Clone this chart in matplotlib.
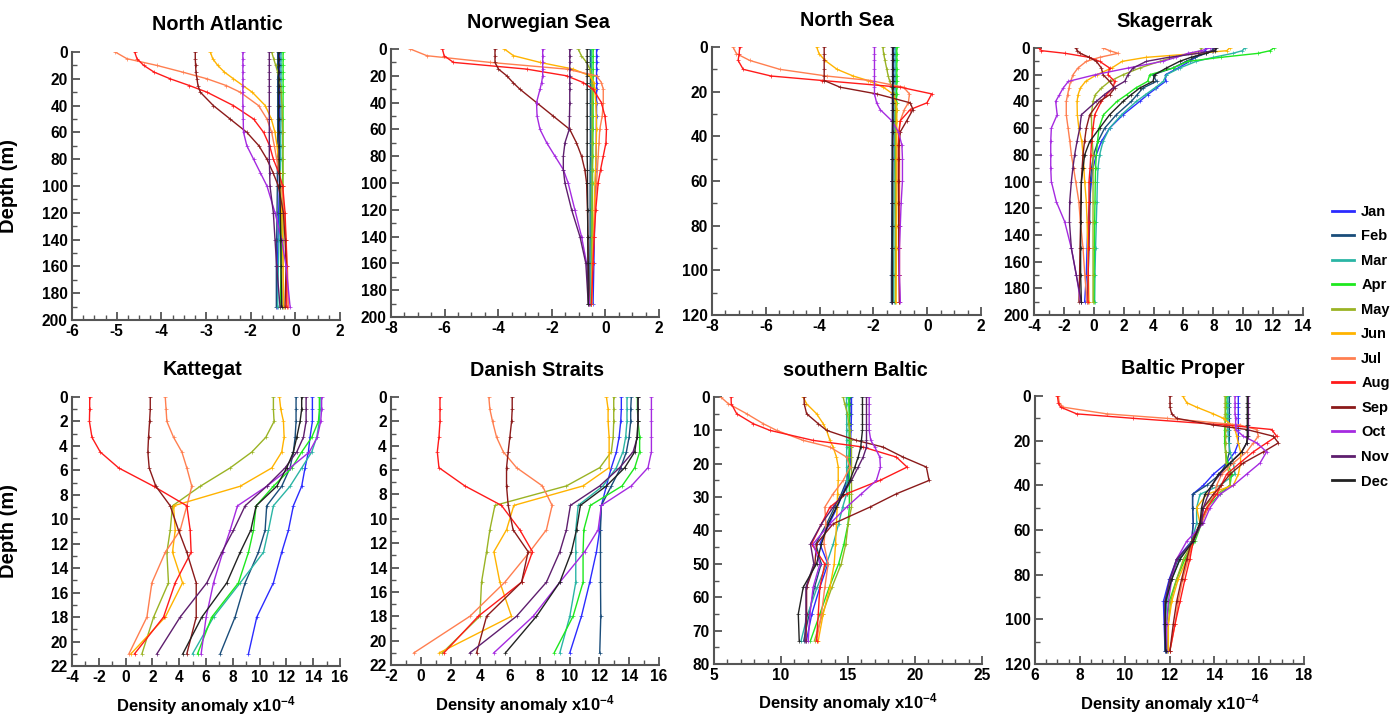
import matplotlib
matplotlib.use("Agg")
import matplotlib.pyplot as plt
from matplotlib.lines import Line2D
from matplotlib.ticker import MultipleLocator
import numpy as np

# Fuente tipo Arial en negrita para todo
plt.rcParams['font.family'] = ['Liberation Sans', 'DejaVu Sans']
plt.rcParams['font.weight'] = 'bold'
plt.rcParams['axes.unicode_minus'] = False
plt.rcParams['mathtext.fontset'] = 'custom'
plt.rcParams['mathtext.rm'] = 'Liberation Sans:bold'
plt.rcParams['mathtext.it'] = 'Liberation Sans:bold'
plt.rcParams['mathtext.bf'] = 'Liberation Sans:bold'

meses = ["Jan", "Feb", "Mar", "Apr", "May", "Jun", "Jul", "Aug", "Sep", "Oct", "Nov", "Dec"]
colores = ['#2b2bff', '#1a4d7a', '#2ab5a5', '#1ee81e', '#9ab324', '#ffb300',
           '#ff7f50', '#ff1a1a', '#8b1a1a', '#a52ae0', '#5e1e6e', '#222222']

# ---------------- North Atlantic ----------------
na_depth = [0, 5, 10, 15, 20, 25, 30, 40, 50, 60, 70, 80, 90, 100, 120, 140, 160, 190]
na_vals = [
    [0.20, 0.20, 0.20, 0.20, 0.20, 0.20, 0.20, 0.20, 0.20, 0.20, 0.20, 0.20, 0.19, 0.19, 0.17, 0.15, 0.13, 0.12],
    [0.14, 0.14, 0.14, 0.14, 0.14, 0.14, 0.14, 0.14, 0.14, 0.14, 0.14, 0.14, 0.13, 0.13, 0.12, 0.11, 0.10, 0.10],
    [0.24, 0.24, 0.24, 0.24, 0.24, 0.24, 0.24, 0.24, 0.24, 0.23, 0.23, 0.23, 0.22, 0.22, 0.20, 0.18, 0.16, 0.14],
    [0.30, 0.30, 0.30, 0.30, 0.30, 0.30, 0.30, 0.30, 0.30, 0.30, 0.30, 0.29, 0.29, 0.28, 0.27, 0.26, 0.24, 0.22],
    [-0.04, 0.02, 0.08, 0.14, 0.18, 0.22, 0.24, 0.27, 0.28, 0.29, 0.29, 0.30, 0.30, 0.30, 0.30, 0.30, 0.30, 0.30],
    [-1.87, -1.80, -1.65, -1.45, -1.18, -0.90, -0.62, -0.23, -0.05, 0.06, 0.12, 0.16, 0.20, 0.22, 0.26, 0.28, 0.30, 0.32],
    [-4.71, -4.36, -3.47, -2.70, -1.97, -1.40, -0.98, -0.43, -0.18, -0.04, 0.04, 0.11, 0.18, 0.26, 0.33, 0.39, 0.43, 0.46],
    [-4.13, -4.06, -3.86, -3.55, -3.07, -2.50, -1.97, -1.18, -0.58, -0.28, -0.10, 0.01, 0.17, 0.29, 0.36, 0.39, 0.41, 0.41],
    [-2.32, -2.32, -2.31, -2.30, -2.27, -2.24, -2.17, -1.78, -1.28, -0.78, -0.42, -0.18, 0.00, 0.16, 0.31, 0.36, 0.39, 0.36],
    [-0.90, -0.90, -0.90, -0.90, -0.90, -0.90, -0.90, -0.90, -0.89, -0.88, -0.78, -0.58, -0.38, -0.18, 0.06, 0.26, 0.39, 0.51],
    [-0.11, -0.11, -0.11, -0.11, -0.11, -0.11, -0.11, -0.11, -0.11, -0.11, -0.11, -0.11, -0.10, -0.09, 0.01, 0.06, 0.11, 0.21],
    [0.17, 0.17, 0.17, 0.17, 0.17, 0.17, 0.17, 0.17, 0.17, 0.17, 0.18, 0.18, 0.19, 0.20, 0.22, 0.23, 0.24, 0.26],
]
na_ticklabels = ["-6", "-5", "-4", "-3", "-2", "0", "2"]

# ---------------- Norwegian Sea ----------------
nw_depth = [0, 5, 10, 15, 20, 25, 30, 40, 50, 60, 70, 80, 90, 100, 120, 140, 160, 190]
nw_vals = [
    [-0.33, -0.33, -0.33, -0.33, -0.33, -0.33, -0.33, -0.33, -0.33, -0.34, -0.34, -0.35, -0.36, -0.37, -0.39, -0.41, -0.43, -0.46],
    [-0.56, -0.56, -0.56, -0.56, -0.56, -0.56, -0.56, -0.56, -0.56, -0.56, -0.56, -0.56, -0.57, -0.57, -0.57, -0.57, -0.58, -0.58],
    [-0.52, -0.52, -0.52, -0.52, -0.52, -0.52, -0.52, -0.52, -0.52, -0.52, -0.52, -0.52, -0.53, -0.53, -0.53, -0.53, -0.54, -0.54],
    [-0.46, -0.46, -0.46, -0.46, -0.46, -0.46, -0.46, -0.46, -0.46, -0.46, -0.47, -0.47, -0.48, -0.48, -0.49, -0.50, -0.51, -0.52],
    [-1.01, -0.90, -0.70, -0.58, -0.52, -0.50, -0.49, -0.49, -0.49, -0.49, -0.49, -0.49, -0.49, -0.49, -0.50, -0.50, -0.51, -0.52],
    [-3.77, -3.43, -2.44, -1.20, -0.58, -0.43, -0.40, -0.36, -0.34, -0.33, -0.34, -0.35, -0.37, -0.39, -0.42, -0.45, -0.48, -0.52],
    [-7.28, -6.66, -4.30, -1.45, -0.33, -0.15, -0.08, -0.08, -0.12, -0.21, -0.24, -0.27, -0.30, -0.33, -0.39, -0.43, -0.48, -0.52],
    [-6.08, -6.02, -5.67, -2.94, -1.45, -0.83, -0.46, -0.15, -0.02, 0.04, 0.02, -0.08, -0.18, -0.27, -0.36, -0.42, -0.46, -0.52],
    [-4.12, -4.12, -4.12, -3.99, -3.68, -3.45, -3.19, -2.57, -1.95, -1.33, -1.08, -0.89, -0.77, -0.70, -0.67, -0.65, -0.64, -0.60],
    [-2.34, -2.34, -2.34, -2.34, -2.34, -2.38, -2.44, -2.57, -2.55, -2.44, -2.19, -1.88, -1.57, -1.39, -1.14, -0.89, -0.70, -0.60],
    [-1.33, -1.33, -1.33, -1.33, -1.33, -1.33, -1.33, -1.33, -1.34, -1.35, -1.51, -1.57, -1.57, -1.51, -1.26, -0.95, -0.73, -0.64],
    [-0.68, -0.68, -0.68, -0.68, -0.68, -0.68, -0.68, -0.68, -0.68, -0.68, -0.68, -0.68, -0.67, -0.67, -0.66, -0.66, -0.65, -0.64],
]

# ---------------- North Sea ----------------
ns_depth = [0, 3, 6, 10, 13, 15, 18, 21, 25, 28, 33, 38, 44, 50, 60, 70, 80, 90, 102, 114]
ns_vals = [
    [-1.25, -1.25, -1.25, -1.25, -1.25, -1.25, -1.25, -1.26, -1.26, -1.26, -1.27, -1.27, -1.28, -1.28, -1.29, -1.29, -1.30, -1.30, -1.31, -1.32],
    [-1.28, -1.28, -1.28, -1.28, -1.28, -1.28, -1.28, -1.29, -1.29, -1.29, -1.29, -1.30, -1.30, -1.30, -1.31, -1.31, -1.32, -1.32, -1.33, -1.33],
    [-1.19, -1.19, -1.19, -1.19, -1.19, -1.19, -1.19, -1.20, -1.20, -1.20, -1.21, -1.21, -1.22, -1.22, -1.23, -1.23, -1.24, -1.24, -1.25, -1.25],
    [-1.13, -1.13, -1.13, -1.13, -1.13, -1.13, -1.13, -1.14, -1.14, -1.14, -1.15, -1.15, -1.16, -1.16, -1.16, -1.17, -1.17, -1.17, -1.18, -1.18],
    [-1.65, -1.62, -1.57, -1.50, -1.45, -1.40, -1.33, -1.22, -1.19, -1.18, -1.18, -1.18, -1.18, -1.18, -1.18, -1.18, -1.18, -1.18, -1.18, -1.18],
    [-4.11, -4.02, -3.80, -3.35, -2.75, -2.20, -1.63, -1.28, -1.15, -1.13, -1.13, -1.13, -1.13, -1.13, -1.13, -1.13, -1.14, -1.14, -1.15, -1.16],
    [-7.22, -7.09, -6.60, -5.48, -3.74, -2.12, -0.88, -0.66, -0.70, -0.85, -1.00, -1.05, -1.03, -1.03, -1.03, -1.03, -1.03, -1.03, -1.03, -1.03],
    [-6.97, -6.99, -7.03, -6.84, -5.80, -3.90, -1.00, 0.17, -0.01, -0.63, -1.00, -1.05, -1.07, -1.07, -1.07, -1.06, -1.05, -1.05, -1.04, -1.03],
    [-3.83, -3.83, -3.83, -3.83, -3.83, -3.83, -3.24, -1.88, -0.63, -0.53, -0.76, -1.00, -1.05, -1.05, -1.06, -1.06, -1.06, -1.05, -1.04, -1.03],
    [-1.96, -1.96, -1.96, -1.96, -1.96, -1.96, -1.96, -1.96, -1.88, -1.75, -1.32, -1.07, -0.94, -0.92, -0.92, -0.97, -1.00, -1.03, -1.03, -1.00],
    [-1.32, -1.32, -1.32, -1.32, -1.32, -1.32, -1.32, -1.32, -1.32, -1.32, -1.32, -1.32, -1.32, -1.32, -1.32, -1.32, -1.32, -1.32, -1.32, -1.32],
    [-1.28, -1.28, -1.28, -1.28, -1.28, -1.28, -1.28, -1.28, -1.28, -1.28, -1.28, -1.28, -1.29, -1.29, -1.29, -1.29, -1.29, -1.30, -1.30, -1.30],
]

# ---------------- Skagerrak ----------------
sk_depth = [0, 2, 4, 7, 10, 15, 20, 25, 30, 35, 40, 50, 60, 70, 80, 90, 100, 115, 130, 150, 170, 190]
sk_vals = [
    [7.53, 7.45, 7.20, 6.80, 6.42, 5.64, 4.80, 4.80, 4.19, 3.60, 3.07, 1.96, 1.06, 0.51, 0.17, -0.05, -0.16, -0.28, -0.39, -0.45, -0.50, -0.61],
    [7.98, 7.90, 7.50, 6.80, 6.19, 5.30, 3.95, 4.20, 3.29, 2.90, 2.51, 1.51, 0.73, 0.28, -0.01, -0.15, -0.23, -0.26, -0.28, -0.32, -0.38, -0.45],
    [10.10, 9.95, 9.30, 8.00, 6.86, 5.75, 4.86, 4.65, 4.07, 3.45, 2.85, 1.85, 1.06, 0.62, 0.39, 0.28, 0.24, 0.21, 0.17, 0.12, 0.08, 0.06],
    [12.04, 11.80, 11.00, 8.50, 6.30, 5.30, 3.75, 3.60, 2.80, 2.20, 1.55, 0.65, 0.35, 0.25, 0.17, 0.12, 0.10, 0.08, 0.06, 0.04, 0.02, 0.01],
    [7.20, 7.15, 6.60, 5.30, 4.41, 3.07, 1.96, 1.06, 0.51, 0.10, -0.05, -0.16, -0.14, -0.10, -0.05, -0.05, -0.05, -0.05, -0.05, -0.05, -0.05, -0.05],
    [9.09, 8.90, 7.00, 3.50, 1.90, 1.20, 0.20, -0.55, -0.90, -1.05, -1.12, -1.10, -1.00, -0.80, -0.72, -0.66, -0.61, -0.50, -0.45, -0.40, -0.36, -0.32],
    [0.62, 1.06, 1.62, 0.39, -0.50, -1.06, -1.39, -1.55, -1.66, -1.75, -1.84, -1.84, -1.72, -1.60, -1.50, -1.35, -1.21, -1.00, -0.90, -0.72, -0.60, -0.45],
    [-3.67, -3.50, -1.90, -0.30, 0.39, 1.06, 0.95, 1.40, 1.29, 0.84, 0.51, 0.06, -0.05, -0.15, -0.20, -0.25, -0.32, -0.32, -0.33, -0.35, -0.37, -0.39],
    [-1.21, -1.10, -0.90, -0.30, 0.17, 0.51, 0.62, 1.06, 1.40, 1.06, 0.39, -0.27, -0.50, -0.62, -0.72, -0.78, -0.83, -0.86, -0.88, -0.92, -0.95, -0.99],
    [7.75, 7.20, 6.30, 5.50, 4.60, 2.30, 0.10, -1.70, -2.05, -2.30, -2.55, -2.45, -2.84, -2.88, -2.88, -2.88, -2.84, -2.51, -1.95, -1.50, -1.17, -0.88],
    [8.09, 8.00, 7.00, 5.00, 3.52, 2.62, 2.29, 2.07, 1.29, 0.70, 0.17, -0.83, -0.94, -1.12, -1.28, -1.40, -1.50, -1.61, -1.63, -1.50, -1.17, -0.83],
    [8.20, 8.10, 7.50, 6.50, 5.75, 4.86, 4.07, 3.96, 3.07, 2.50, 1.96, 1.06, 0.39, -0.27, -0.61, -0.72, -0.83, -0.85, -0.87, -0.88, -0.88, -0.83],
]

# ---------------- Kattegat ----------------
kt_depth = [0, 1, 2, 3.3, 4.5, 5.8, 7.3, 8.9, 10.9, 12.7, 15.2, 18, 21]
kt_vals = [
    [13.94, 13.94, 13.94, 13.76, 13.64, 13.39, 13.14, 12.52, 12.15, 11.65, 11.03, 9.79, 9.17],
    [12.72, 12.72, 12.72, 12.65, 12.52, 12.27, 11.65, 10.53, 10.41, 9.91, 8.92, 8.17, 7.06],
    [14.51, 14.51, 14.46, 14.26, 13.89, 13.14, 12.27, 11.03, 10.66, 10.29, 8.55, 6.56, 5.00],
    [14.46, 14.46, 14.39, 13.89, 13.14, 12.40, 11.03, 9.74, 9.54, 9.17, 8.42, 6.43, 5.37],
    [11.03, 11.03, 11.08, 10.46, 9.42, 7.80, 5.57, 3.50, 3.33, 3.08, 3.20, 2.09, 1.22],
    [11.48, 11.58, 11.78, 11.83, 11.65, 10.91, 8.55, 3.58, 3.70, 3.50, 4.25, 2.96, 0.40],
    [2.96, 3.02, 3.08, 3.58, 4.20, 4.57, 4.94, 4.57, 4.07, 2.96, 1.96, 1.59, 0.25],
    [-2.68, -2.68, -2.70, -2.51, -1.89, -0.52, 2.09, 4.57, 4.82, 4.89, 3.70, 2.83, 0.67],
    [1.84, 1.84, 1.79, 1.71, 1.66, 1.76, 2.26, 3.33, 3.95, 4.57, 5.27, 5.27, 4.57],
    [14.63, 14.63, 14.56, 14.30, 13.71, 12.27, 10.53, 8.35, 7.80, 7.25, 6.56, 6.01, 5.64],
    [13.47, 13.47, 13.47, 13.27, 12.77, 11.90, 10.53, 8.92, 8.05, 7.18, 6.06, 4.07, 2.34],
    [13.14, 13.14, 13.02, 12.77, 12.52, 12.02, 11.28, 9.74, 9.34, 8.55, 7.55, 5.69, 4.27],
]

# ---------------- Danish Straits ----------------
ds_depth = [0, 1, 2, 3.3, 4.5, 5.8, 7.3, 8.9, 10.9, 12.7, 15.2, 18, 21]
ds_vals = [
    [13.47, 13.47, 13.43, 13.32, 13.14, 12.80, 12.47, 12.13, 12.02, 11.80, 11.35, 10.79, 10.01],
    [14.14, 14.10, 14.10, 13.99, 13.81, 13.43, 12.80, 12.13, 12.07, 12.07, 12.07, 12.09, 12.02],
    [13.85, 13.85, 13.85, 13.76, 13.58, 13.14, 12.24, 10.57, 10.41, 10.41, 10.41, 10.01, 9.34],
    [14.55, 14.55, 14.59, 14.70, 14.70, 14.37, 13.52, 11.39, 10.95, 10.90, 10.90, 10.23, 8.96],
    [12.96, 12.96, 12.96, 12.92, 12.80, 12.02, 9.78, 4.98, 4.64, 4.42, 4.08, 3.97, 1.45],
    [12.47, 12.58, 12.58, 12.65, 12.65, 12.65, 10.90, 6.25, 5.76, 4.91, 5.31, 6.09, 1.25],
    [4.57, 4.64, 4.82, 5.09, 5.54, 6.43, 8.17, 8.82, 8.44, 7.32, 5.65, 3.30, -0.46],
    [1.29, 1.29, 1.29, 1.22, 1.11, 1.22, 2.96, 5.42, 6.65, 7.50, 6.77, 3.86, 1.56],
    [6.14, 6.14, 6.10, 5.98, 5.87, 5.76, 5.76, 5.87, 6.20, 7.21, 6.77, 4.42, 3.75],
    [15.49, 15.49, 15.49, 15.49, 15.49, 15.26, 14.14, 12.13, 11.91, 11.01, 9.34, 7.55, 4.91],
    [14.59, 14.59, 14.59, 14.55, 14.26, 13.36, 12.02, 10.05, 9.78, 9.34, 8.44, 6.43, 3.30],
    [14.59, 14.59, 14.59, 14.52, 14.37, 13.70, 12.47, 10.72, 10.46, 10.12, 9.34, 7.77, 5.69],
]

# ---------------- southern Baltic ----------------
sb_depth = [0, 2, 5, 8, 10, 13, 15, 18, 21, 25, 29, 33, 38, 44, 50, 57, 65, 73]
sb_vals = [
    [15.26, 15.26, 15.26, 15.24, 15.22, 15.20, 15.20, 15.20, 15.15, 15.00, 14.60, 14.20, 13.60, 12.90, 13.50, 12.90, 12.30, 11.90],
    [15.14, 15.14, 15.14, 15.12, 15.10, 15.10, 15.10, 15.08, 15.05, 14.90, 14.50, 14.00, 13.40, 12.60, 13.00, 12.50, 12.10, 11.70],
    [14.89, 14.89, 14.90, 14.90, 14.90, 14.90, 14.90, 14.90, 14.90, 14.90, 14.90, 14.60, 14.30, 13.90, 13.40, 12.70, 12.00, 11.50],
    [15.06, 15.06, 15.08, 15.10, 15.10, 15.10, 15.10, 15.10, 15.10, 15.10, 15.10, 15.10, 15.00, 14.70, 14.30, 13.60, 12.90, 12.20],
    [14.64, 14.75, 14.96, 15.05, 15.14, 15.20, 15.26, 15.26, 15.26, 15.26, 15.26, 15.26, 15.01, 14.84, 14.50, 13.80, 13.10, 12.50],
    [11.66, 11.90, 12.65, 13.15, 13.40, 13.65, 13.89, 14.14, 14.27, 14.27, 14.22, 14.19, 14.14, 14.07, 13.97, 13.65, 13.15, 12.78],
    [5.50, 6.07, 7.43, 8.68, 9.67, 11.66, 13.65, 14.89, 15.14, 14.64, 13.89, 13.27, 13.35, 13.20, 13.52, 13.27, 13.02, 12.65],
    [6.27, 6.29, 6.69, 7.93, 9.17, 12.40, 16.13, 18.61, 19.41, 17.37, 14.89, 13.65, 13.02, 12.28, 13.27, 12.90, 12.78, 12.65],
    [11.73, 11.73, 11.91, 12.78, 13.40, 15.63, 17.62, 19.11, 20.85, 21.05, 18.61, 16.63, 13.89, 12.65, 12.53, 11.91, 11.91, 11.86],
    [16.58, 16.58, 16.58, 16.58, 16.58, 16.70, 17.00, 17.37, 17.42, 17.12, 16.00, 14.89, 13.65, 12.40, 12.90, 12.40, 12.16, 12.03],
    [16.38, 16.38, 16.38, 16.38, 16.38, 16.38, 16.38, 16.13, 15.76, 15.26, 14.64, 13.89, 13.02, 12.20, 12.45, 11.86, 11.86, 11.78],
    [16.08, 16.08, 16.08, 16.08, 16.08, 16.00, 15.95, 15.76, 15.51, 15.14, 14.64, 14.14, 13.52, 13.02, 12.65, 11.66, 11.29, 11.36],
]

# ---------------- Baltic Proper ----------------
bp_depth = [0, 3, 5, 8, 10, 13, 15, 18, 21, 25, 30, 35, 40, 44, 50, 57, 65, 73, 82, 92, 102, 114]
bp_vals = [
    [15.07, 15.07, 15.07, 15.07, 15.07, 15.07, 15.07, 15.07, 15.07, 14.92, 14.55, 13.96, 13.51, 13.03, 13.03, 13.06, 12.99, 12.32, 11.99, 11.73, 11.76, 11.80],
    [14.67, 14.67, 14.67, 14.67, 14.67, 14.67, 14.67, 14.67, 14.67, 14.67, 14.55, 14.25, 13.66, 13.03, 13.03, 13.06, 12.99, 12.39, 12.02, 11.80, 11.80, 11.80],
    [14.60, 14.60, 14.60, 14.60, 14.60, 14.60, 14.60, 14.62, 14.65, 14.70, 14.85, 14.92, 14.25, 13.36, 13.21, 13.21, 12.99, 12.47, 12.10, 11.87, 11.83, 11.83],
    [14.52, 14.52, 14.52, 14.50, 14.50, 14.48, 14.46, 14.46, 14.46, 14.50, 14.60, 14.77, 14.70, 14.25, 13.66, 13.43, 13.14, 12.69, 12.32, 11.99, 11.87, 11.87],
    [14.48, 14.48, 14.48, 14.48, 14.48, 14.48, 14.50, 14.50, 14.50, 14.50, 14.52, 14.67, 14.70, 14.10, 13.51, 13.36, 13.06, 12.62, 12.32, 12.05, 11.95, 11.92],
    [12.59, 12.77, 13.21, 13.96, 14.40, 14.77, 14.92, 15.00, 15.07, 15.17, 15.17, 15.07, 14.85, 13.66, 13.21, 13.36, 13.06, 12.77, 12.39, 12.10, 11.95, 11.95],
    [7.04, 7.08, 7.26, 9.20, 11.87, 15.14, 15.89, 15.96, 15.74, 15.44, 14.85, 14.33, 14.10, 14.03, 13.73, 13.43, 13.06, 12.84, 12.59, 12.39, 12.25, 12.02],
    [7.00, 7.04, 7.14, 7.86, 10.39, 14.50, 16.56, 16.78, 16.33, 15.74, 15.14, 14.55, 14.30, 14.10, 13.66, 13.36, 13.06, 12.91, 12.69, 12.47, 12.25, 12.02],
    [12.02, 12.02, 12.02, 12.10, 12.32, 13.96, 15.44, 16.63, 16.86, 16.19, 15.29, 14.70, 14.30, 13.96, 13.51, 13.36, 12.99, 12.77, 12.54, 12.32, 12.17, 12.02],
    [14.92, 14.92, 14.92, 14.92, 14.95, 14.95, 14.96, 15.29, 15.89, 16.33, 16.04, 15.44, 14.85, 14.25, 13.81, 13.51, 12.77, 12.32, 12.10, 11.95, 11.87, 11.87],
    [15.52, 15.52, 15.52, 15.52, 15.52, 15.52, 15.52, 15.52, 15.45, 15.22, 14.70, 14.25, 13.88, 13.73, 13.51, 13.43, 13.06, 12.32, 12.02, 11.80, 11.80, 11.83],
    [15.47, 15.47, 15.47, 15.47, 15.47, 15.47, 15.47, 15.47, 15.44, 15.22, 14.70, 14.18, 13.90, 13.58, 13.43, 13.36, 13.06, 12.47, 12.10, 11.83, 11.80, 11.83],
]

W, H = 1394, 717
fig = plt.figure(figsize=(W / 100, H / 100), dpi=100)


def caja(izq, arriba, der, abajo):
    # convierte pixeles a fracciones de figura
    return [izq / W, 1 - abajo / H, (der - izq) / W, (abajo - arriba) / H]


# titulo, profundidades, valores, caja, xlim, ylim, paso x mayor, menor, paso y mayor, menor, centro titulo (px)
paneles = [
    ("North Atlantic", na_depth, na_vals, caja(72, 52, 340, 320), (-6, 2), 200, None, None, 20, 10, 217),
    ("Norwegian Sea", nw_depth, nw_vals, caja(391, 49, 659, 317), (-8, 2), 200, 2, 0.5, 20, 10, 538),
    ("North Sea", ns_depth, ns_vals, caja(712, 47, 981, 315), (-8, 2), 120, 2, 0.5, 20, 10, 847),
    ("Skagerrak", sk_depth, sk_vals, caja(1034, 48, 1303, 315), (-4, 14), 200, 2, 1, 20, 10, 1165),
    ("Kattegat", kt_depth, kt_vals, caja(72, 397, 340, 666), (-4, 16), 22, 2, 1, 2, 1, 203),
    ("Danish Straits", ds_depth, ds_vals, caja(391, 397, 659, 665), (-2, 16), 22, 2, 1, 2, 1, 537),
    ("southern Baltic", sb_depth, sb_vals, caja(714, 397, 982, 664), (5, 25), 80, 5, 1, 10, 5, 855),
    ("Baltic Proper", bp_depth, bp_vals, caja(1035, 396, 1304, 664), (6, 18), 120, 2, 0.5, 20, 10, 1183),
]

gris = '#555555'
for i, (titulo, prof, vals, rect, xl, ymax, xmaj, xmin, ymaj, ymin, tx) in enumerate(paneles):
    ax = fig.add_axes(rect)
    for serie, col in zip(vals, colores):
        ax.plot(serie, prof, color=col, lw=1.0, marker='+', ms=2.5, mew=0.5)
    ax.set_xlim(*xl)
    ax.set_ylim(ymax, 0)
    if xmaj is None:
        ax.set_xticks(np.linspace(-6, 2, 7))
        ax.set_xticklabels(na_ticklabels)
        ax.set_xticks(np.linspace(-6, 2, 25), minor=True)
    else:
        ax.xaxis.set_major_locator(MultipleLocator(xmaj))
        ax.xaxis.set_minor_locator(MultipleLocator(xmin))
    ax.yaxis.set_major_locator(MultipleLocator(ymaj))
    ax.yaxis.set_minor_locator(MultipleLocator(ymin))
    for lado in ['top', 'right']:
        ax.spines[lado].set_visible(False)
    for lado in ['left', 'bottom']:
        ax.spines[lado].set_color(gris)
        ax.spines[lado].set_linewidth(1.5)
    ax.tick_params(which='major', direction='in', length=6, width=1.3, color=gris,
                   labelsize=11.2, pad=3)
    ax.tick_params(which='minor', direction='in', length=3.5, width=1.0, color=gris)
    for lab in ax.get_xticklabels() + ax.get_yticklabels():
        lab.set_fontweight('bold')
    # titulo centrado en la posicion del original
    x0 = rect[0] * W
    ancho = rect[2] * W
    ax.text((tx - x0) / ancho, 1 + 27 / 268, titulo, transform=ax.transAxes,
            ha='center', va='center', fontsize=14.3, fontweight='bold')
    if i % 4 == 0:
        ax.set_ylabel("Depth (m)", fontsize=14.5, fontweight='bold')
        ax.yaxis.set_label_coords(-0.2, 0.5)
    if i >= 4:
        ax.set_xlabel(r"Density anomaly x10$^{-4}$", fontsize=12, fontweight='bold')
        ax.xaxis.set_label_coords(0.5, -0.103)

# Leyenda de meses a la derecha
manejadores = [Line2D([0], [0], color=c, lw=2) for c in colores]
fig.legend(manejadores, meses, loc='upper left', bbox_to_anchor=(1332 / W, 1 - 205 / H),
           frameon=False, prop={'weight': 'bold', 'size': 10.5}, handlelength=1.5,
           handletextpad=0.5, labelspacing=0.72, borderpad=0, borderaxespad=0)

fig.savefig("out.png", dpi=100)
